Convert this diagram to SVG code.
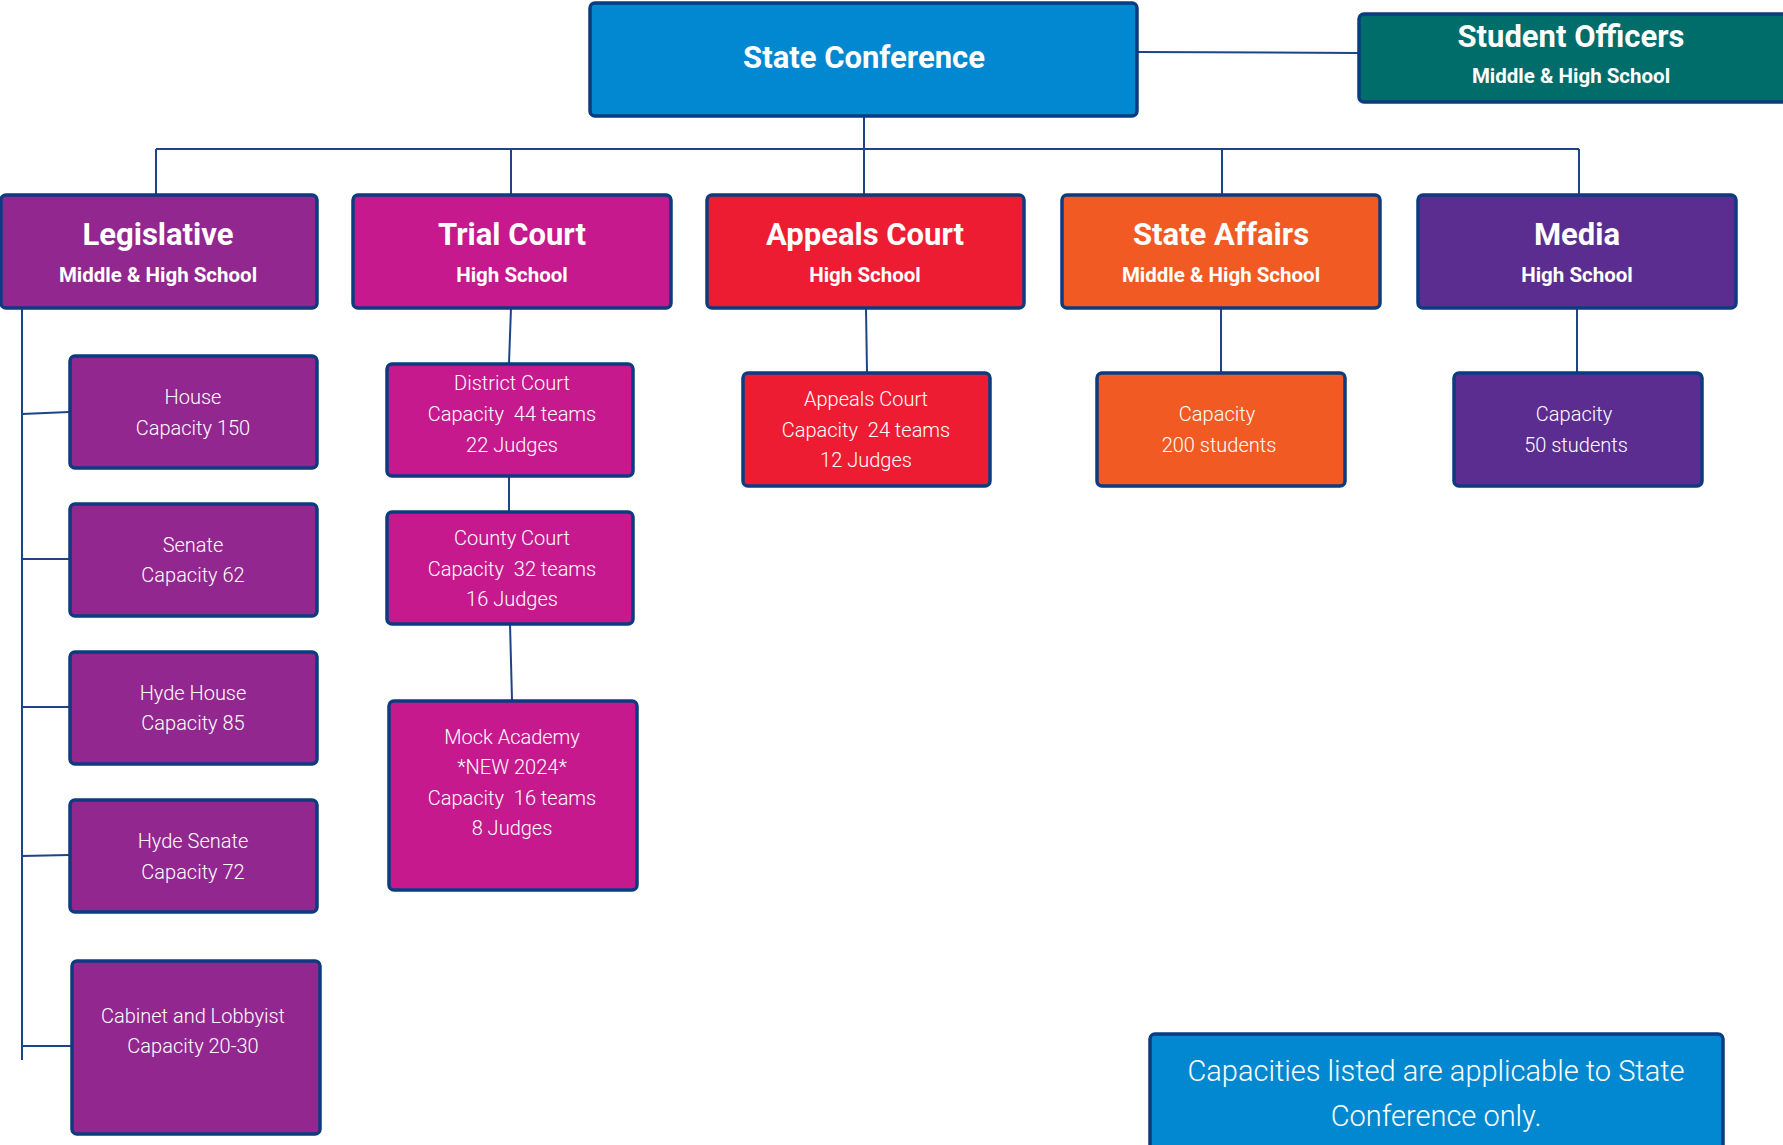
<svg xmlns="http://www.w3.org/2000/svg" width="1783" height="1145" viewBox="0 0 1783 1145">
<style>
.box{stroke:#0c3b80;stroke-width:3.5}
.conn{stroke:#1d4487;stroke-width:2;fill:none}
.t{font-family:Roboto,"Open Sans","Liberation Sans",sans-serif;fill:#fff;text-anchor:middle;white-space:pre}
.h{font-weight:700;font-size:31px}
.s{font-weight:700;font-size:20.5px}
.b{font-weight:300;font-size:20px}
.leg{fill:#92278f}.tri{fill:#c5198d}.app{fill:#ed1c33}.sa{fill:#f15a22}.med{fill:#5c2d91}
</style>
<rect width="1783" height="1145" fill="#fff"/>
<g id="connectors" class="conn">
<path d="M1137 52 L1359 53"/>
<path d="M864 116 V149 M156 149 H1579 M156 149 V194 M511 149 V194 M864 149 V194 M1222 149 V194 M1579 149 V194"/>
<path d="M22 308 V1060 M22 414 L69 412 M22 559 H69 M22 707 H69 M22 856 L69 855 M22 1046 H72"/>
<path d="M511 308 L509 363 M509 476 V511 M510 624 L512 700"/>
<path d="M866 308 L867 372"/>
<path d="M1221 308 V372"/>
<path d="M1577 308 V372"/>
</g>
<g id="state-conference">
<rect class="box" x="590" y="3" width="547" height="113" rx="5" fill="#0288d1"/>
<text class="t" x="864" y="68" font-weight="700" font-size="31px">State Conference</text>
</g>
<g id="student-officers">
<rect class="box" x="1359" y="14" width="440" height="88" rx="5" fill="#006d6a"/>
<text class="t" x="1571" y="47" font-weight="700" font-size="31px">Student Officers</text>
<text class="t s" x="1571" y="83">Middle &amp; High School</text>
</g>
<g id="legislative">
<rect class="box leg" x="1" y="195" width="316" height="113" rx="5"/>
<text class="t h" x="158" y="245">Legislative</text>
<text class="t s" x="158" y="282">Middle &amp; High School</text>
</g>
<g id="trial-court">
<rect class="box tri" x="353" y="195" width="318" height="113" rx="5"/>
<text class="t h" x="512" y="245">Trial Court</text>
<text class="t s" x="512" y="282">High School</text>
</g>
<g id="appeals-court">
<rect class="box app" x="707" y="195" width="317" height="113" rx="5"/>
<text class="t h" x="865" y="245">Appeals Court</text>
<text class="t s" x="865" y="282">High School</text>
</g>
<g id="state-affairs">
<rect class="box sa" x="1062" y="195" width="318" height="113" rx="5"/>
<text class="t h" x="1221" y="245">State Affairs</text>
<text class="t s" x="1221" y="282">Middle &amp; High School</text>
</g>
<g id="media">
<rect class="box med" x="1418" y="195" width="318" height="113" rx="5"/>
<text class="t h" x="1577" y="245">Media</text>
<text class="t s" x="1577" y="282">High School</text>
</g>
<g id="house">
<rect class="box leg" x="70" y="356" width="247" height="112" rx="5"/>
<text class="t b" x="193" y="404">House</text>
<text class="t b" x="193" y="435">Capacity 150</text>
</g>
<g id="senate">
<rect class="box leg" x="70" y="504" width="247" height="112" rx="5"/>
<text class="t b" x="193" y="552">Senate</text>
<text class="t b" x="193" y="582">Capacity 62</text>
</g>
<g id="hyde-house">
<rect class="box leg" x="70" y="652" width="247" height="112" rx="5"/>
<text class="t b" x="193" y="700">Hyde House</text>
<text class="t b" x="193" y="730">Capacity 85</text>
</g>
<g id="hyde-senate">
<rect class="box leg" x="70" y="800" width="247" height="112" rx="5"/>
<text class="t b" x="193" y="848">Hyde Senate</text>
<text class="t b" x="193" y="879">Capacity 72</text>
</g>
<g id="cabinet">
<rect class="box leg" x="72" y="961" width="248" height="173" rx="5"/>
<text class="t b" x="193" y="1023">Cabinet and Lobbyist</text>
<text class="t b" x="193" y="1053">Capacity 20-30</text>
</g>
<g id="district-court">
<rect class="box tri" x="387" y="364" width="246" height="112" rx="5"/>
<text class="t b" x="512" y="390">District Court</text>
<text class="t b" x="512" y="421">Capacity  44 teams</text>
<text class="t b" x="512" y="452">22 Judges</text>
</g>
<g id="county-court">
<rect class="box tri" x="387" y="512" width="246" height="112" rx="5"/>
<text class="t b" x="512" y="545">County Court</text>
<text class="t b" x="512" y="576">Capacity  32 teams</text>
<text class="t b" x="512" y="606">16 Judges</text>
</g>
<g id="mock-academy">
<rect class="box tri" x="389" y="701" width="248" height="189" rx="5"/>
<text class="t b" x="512" y="744">Mock Academy</text>
<text class="t b" x="512" y="774">*NEW 2024*</text>
<text class="t b" x="512" y="805">Capacity  16 teams</text>
<text class="t b" x="512" y="835">8 Judges</text>
</g>
<g id="appeals-court-detail">
<rect class="box app" x="743" y="373" width="247" height="113" rx="5"/>
<text class="t b" x="866" y="406">Appeals Court</text>
<text class="t b" x="866" y="437">Capacity  24 teams</text>
<text class="t b" x="866" y="467">12 Judges</text>
</g>
<g id="state-affairs-detail">
<rect class="box sa" x="1097" y="373" width="248" height="113" rx="5"/>
<text class="t b" x="1217" y="421">Capacity</text>
<text class="t b" x="1219" y="452">200 students</text>
</g>
<g id="media-detail">
<rect class="box med" x="1454" y="373" width="248" height="113" rx="5"/>
<text class="t b" x="1574" y="421">Capacity</text>
<text class="t b" x="1576" y="452">50 students</text>
</g>
<g id="note">
<rect class="box" x="1150" y="1034" width="573" height="130" rx="5" fill="#0288d1"/>
<text class="t" x="1436" y="1081" font-weight="300" font-size="29px">Capacities listed are applicable to State</text>
<text class="t" x="1436" y="1126" font-weight="300" font-size="29px">Conference only.</text>
</g>
</svg>
